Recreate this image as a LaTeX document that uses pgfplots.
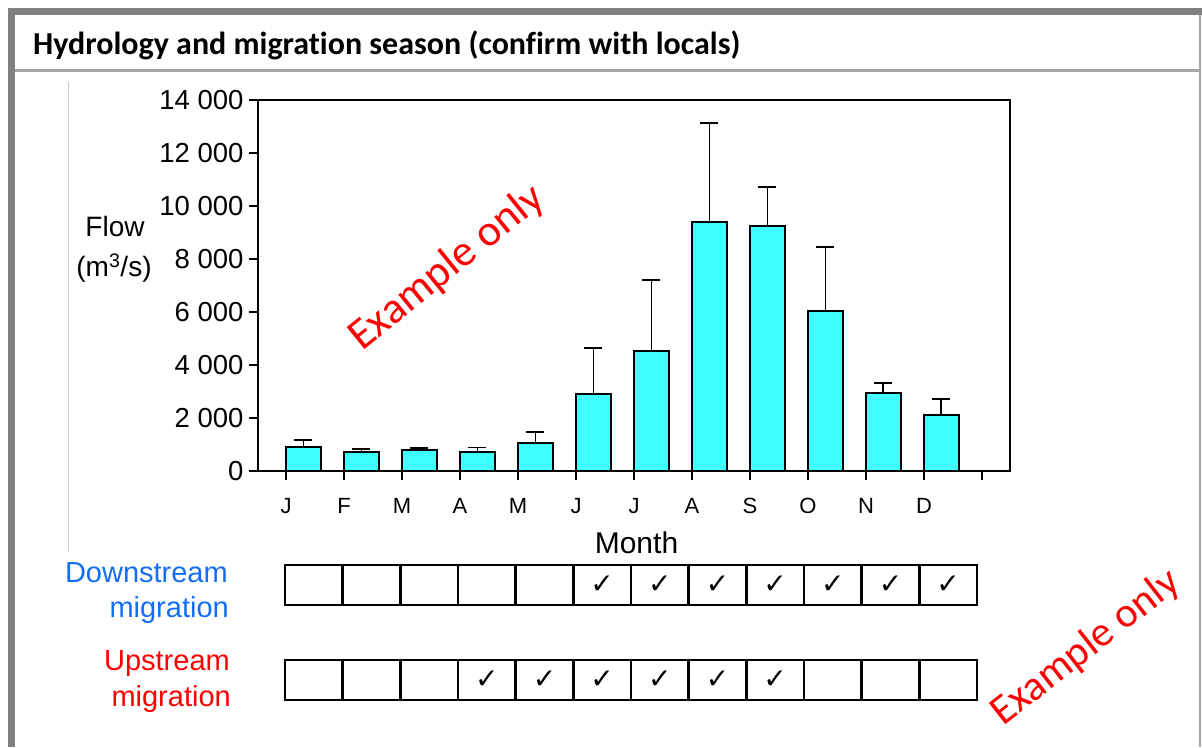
\documentclass[border=0pt]{standalone}
\usepackage{pgfplots}
\pgfplotsset{compat=1.18}
\usepackage{fontspec}
\setmainfont{Liberation Sans}
\newfontfamily\carlito{Carlito}
\newfontfamily\carlitotitle[Ligatures=NoCommon]{Carlito}
\newfontfamily\dejavu{DejaVu Sans}
\definecolor{barcyan}{RGB}{64,255,255}
\definecolor{framegray}{RGB}{128,128,128}
\definecolor{linegray}{RGB}{166,166,166}
\definecolor{dsblue}{RGB}{20,110,245}
\newcommand{\chk}{\fontsize{28}{28}\selectfont\dejavu ✓}
\begin{document}
\begin{tikzpicture}[x=1pt,y=1pt]
\useasboundingbox (0,0) rectangle (1202,747);
% frame
\fill[framegray] (8,731.5) rectangle (1202,738.5);
\fill[framegray] (8,0) rectangle (15,738.5);
\draw[linegray, line width=1.5pt] (1200.2,0) -- (1200.2,731.5);
\draw[linegray, line width=2.5pt] (15,676.5) -- (1200,676.5);
\draw[gray!45, line width=1pt] (68,665) -- (68,195);
\node[anchor=base west, inner sep=0, font=\carlitotitle\bfseries\fontsize{32}{34}\selectfont] at (33,692.5) {Hydrology and migration season (confirm with locals)};

\begin{axis}[
 at={(258pt,276pt)}, anchor=south west, scale only axis, width=752pt, height=371pt,
 xmin=-0.483, xmax=12.483, ymin=0, ymax=14000,
 scaled y ticks=false,
 axis line style={black, line width=1.5pt},
 xtick={0,...,12}, xticklabels={J,F,M,A,M,J,J,A,S,O,N,D,{}},
 ytick={0,2000,...,14000}, yticklabels={0,2 000,4 000,6 000,8 000,10 000,12 000,14 000},
 xtick pos=left, ytick pos=left, tick align=outside,
 major tick length=9pt, tick style={black, line width=1.5pt},
 x tick label style={font=\fontsize{22}{24}\selectfont, yshift=-15pt},
 y tick label style={font=\fontsize{27.5}{29}\selectfont, xshift=-2pt},
 clip=false,
]
\addplot[ybar, bar width=35pt, fill=barcyan, draw=black, line width=2pt,
  error bars/.cd, y dir=plus, y explicit,
  error bar style={black, line width=1.8pt, solid},
  error mark options={black, line width=1.8pt, mark size=9pt, rotate=90}]
 coordinates {
 (0.3,894) +- (0,286)
 (1.3,720) +- (0,110)
 (2.3,805) +- (0,65)
 (3.3,720) +- (0,170)
 (4.3,1045) +- (0,435)
 (5.3,2920) +- (0,1720)
 (6.3,4530) +- (0,2670)
 (7.3,9408) +- (0,3724)
 (8.3,9233) +- (0,1495)
 (9.3,6040) +- (0,2413)
 (10.3,2956) +- (0,377)
 (11.3,2101) +- (0,616)
 };
\end{axis}

% downstream migration row
\begin{axis}[at={(285pt,142pt)}, anchor=south west, scale only axis, width=692pt, height=40pt,
 xmin=0, xmax=12, ymin=0, ymax=1, hide axis, clip=false]
\addplot[ybar interval, draw=black, fill=none, line width=2.5pt] coordinates {(0,1)(1,1)(2,1)(3,1)(4,1)(5,1)(6,1)(7,1)(8,1)(9,1)(10,1)(11,1)(12,1)};
\addplot[only marks, mark=text, text mark={\chk}]
 coordinates {(5.5,0.5)(6.5,0.5)(7.5,0.5)(8.5,0.5)(9.5,0.5)(10.5,0.5)(11.5,0.5)};
\end{axis}

% upstream migration row
\begin{axis}[at={(285pt,47pt)}, anchor=south west, scale only axis, width=692pt, height=40pt,
 xmin=0, xmax=12, ymin=0, ymax=1, hide axis, clip=false]
\addplot[ybar interval, draw=black, fill=none, line width=2.5pt] coordinates {(0,1)(1,1)(2,1)(3,1)(4,1)(5,1)(6,1)(7,1)(8,1)(9,1)(10,1)(11,1)(12,1)};
\addplot[only marks, mark=text, text mark={\chk}]
 coordinates {(3.5,0.5)(4.5,0.5)(5.5,0.5)(6.5,0.5)(7.5,0.5)(8.5,0.5)};
\end{axis}

\node[anchor=base, font=\fontsize{28}{30}\selectfont] at (115,510.3) {Flow};
\node[anchor=base, font=\fontsize{28}{30}\selectfont] at (114,470) {(m\textsuperscript{3}/s)};
\node[anchor=base, font=\fontsize{30}{34}\selectfont] at (636.5,193.7) {Month};
\node[anchor=base east, inner sep=0, text=dsblue, font=\fontsize{29}{30}\selectfont] at (228,164) {Downstream};
\node[anchor=base east, inner sep=0, text=dsblue, font=\fontsize{29}{30}\selectfont] at (229,129) {migration};
\node[anchor=base east, inner sep=0, text=red, font=\fontsize{29}{30}\selectfont] at (230,76.3) {Upstream};
\node[anchor=base east, inner sep=0, text=red, font=\fontsize{29}{30}\selectfont] at (231,40.5) {migration};

\node[rotate=39, text=red, font=\carlito\fontsize{44}{48}\selectfont] at (447,479) {Example only};
\node[rotate=38, text=red, font=\carlito\fontsize{42}{46}\selectfont] at (1086,99) {Example only};
\end{tikzpicture}
\end{document}
